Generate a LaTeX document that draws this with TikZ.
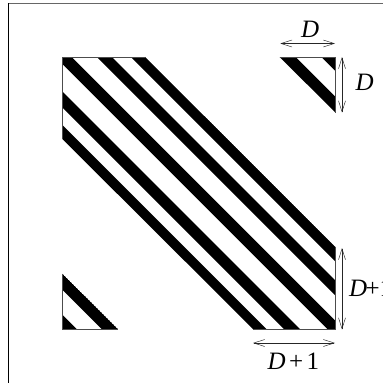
\documentclass[tikz,border=0pt]{standalone}
\usepackage{fontspec}
\setmainfont{Liberation Serif}
\usetikzlibrary{arrows.meta}
\tikzset{
  lbl/.style={inner sep=0pt,outer sep=0pt,anchor=base west,font=\fontsize{25}{25}\selectfont},
  dim/.style={line width=0.45pt,draw=black!85,{Straight Barb[length=11pt,width=7pt,line width=0.45pt]}-{Straight Barb[length=11pt,width=7pt,line width=0.45pt]},shorten <=0pt,shorten >=0pt},
  edge/.style={line width=0.6pt,draw=black!70}
}
\newcommand{\stripe}[2]{\fill[black] (#1,0) -- (#2,0) -- (#2+383,383) -- (#1+383,383) -- cycle;}
\begin{document}
\begin{tikzpicture}[x=1pt,y=-1pt]
\path[use as bounding box,clip] (0,0) rectangle (383,383);
\fill[white] (0,0) rectangle (383,383);
\draw[line width=1pt,black!60] (8,3.2) -- (383,3.2);
\draw[line width=1pt,black] (8,3) -- (8,383);
% main band
\begin{scope}
\clip (62.3,57) -- (145,57) -- (335.3,246.5) -- (335.3,329) -- (253,329) -- (62.3,139) -- cycle;
\stripe{74}{88.5}\stripe{40}{55}\stripe{-1.5}{14.7}\stripe{-45}{-29}\stripe{-77}{-62.5}
\end{scope}
\draw[edge] (62.3,139) -- (62.3,57) -- (145,57);
\draw[edge] (335.3,246.5) -- (335.3,329) -- (253,329);
% top right triangle
\begin{scope}
\clip (279.7,57) -- (335.3,57) -- (335.3,112.5) -- cycle;
\stripe{222.7}{238.5}\stripe{264.3}{290}
\end{scope}
\draw[edge] (279.7,57) -- (335.3,57) -- (335.3,112.5);
% bottom left triangle
\begin{scope}
\clip (62.3,273.7) -- (118,329) -- (62.3,329) -- cycle;
\stripe{-227.3}{-211}\stripe{-280}{-252.4}
\end{scope}
\draw[edge] (62.3,273.7) -- (62.3,329) -- (118,329);
% dimensions
\coordinate (tl) at (280.3,43.5); \coordinate (tr) at (335,43.5);
\coordinate (rt) at (342,57); \coordinate (rb) at (342,112.5);
\coordinate (lt) at (342,248); \coordinate (lb) at (342,329.5);
\coordinate (bl) at (253,343); \coordinate (br) at (335,343);
\draw[dim] (tl) -- (tr);
\draw[dim] (rt) -- (rb);
\draw[dim] (lt) -- (lb);
\draw[dim] (bl) -- (br);
\node[lbl] (d1) at (301,37) {\textit{D}};
\node[lbl] (d2) at (355.5,90.7) {\textit{D}};
\node[lbl] (d3) at (349,296) {\textit{D}\kern-1.5pt+1};
\node[lbl] (d4) at (267.5,369.7) {\textit{D}\kern3.5pt+\kern3.5pt1};
\end{tikzpicture}
\end{document}
